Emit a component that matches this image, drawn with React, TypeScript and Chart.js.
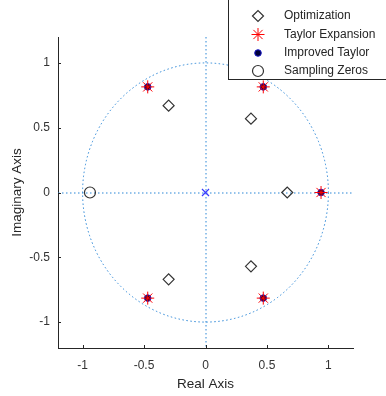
import React, { useEffect, useRef } from "react";
import { Chart, registerables } from "chart.js";
import { drawPoint } from "chart.js/helpers";

Chart.register(...registerables);

// Pole / zero locations (real part, imaginary part)
const optimizationRe = [-0.3, -0.3, 0.37, 0.37, 0.665];
const optimizationIm = [0.67, -0.67, 0.57, -0.57, 0];
const taylorRe = [0.94, 0.47, 0.47, -0.47, -0.47];
const taylorIm = [0, 0.815, -0.815, 0.815, -0.815];
const improvedRe = [0.94, 0.47, 0.47, -0.47, -0.47];
const improvedIm = [0, 0.815, -0.815, 0.815, -0.815];
const samplingRe = [-0.94];
const samplingIm = [0];
const originRe = [0];
const originIm = [0];

const xTicks = [-1, -0.5, 0, 0.5, 1];
const yTicks = [-1, -0.5, 0, 0.5, 1];
const axisMin = -1.2;
const axisMax = 1.2;
const unitRadius = 1;

const legendLabels = ["Optimization", "Taylor Expansion", "Improved Taylor", "Sampling Zeros"];
const xTitle = "Real Axis";
const yTitle = "Imaginary Axis";

const FONT = "'Liberation Sans', Arial, sans-serif";
const DARK = "#262626";
const DOT_BLUE = "#2b86d6";

const toPoints = (re: number[], im: number[]) => re.map((r, i) => ({ x: r, y: im[i] }));

const markerStyles = [
  { pointStyle: "rectRot", radius: 5.5, borderColor: "#333333", backgroundColor: "rgba(0,0,0,0)", borderWidth: 1.2 },
  { pointStyle: "star", radius: 6.5, borderColor: "#ff0000", backgroundColor: "rgba(0,0,0,0)", borderWidth: 1 },
  { pointStyle: "circle", radius: 3.3, borderColor: "#1a1acc", backgroundColor: "#00003a", borderWidth: 1 },
  { pointStyle: "circle", radius: 5.5, borderColor: "#333333", backgroundColor: "rgba(0,0,0,0)", borderWidth: 1.2 },
];

const decorPlugin = {
  id: "pzDecor",
  beforeDatasetsDraw(chart: any) {
    const { ctx, chartArea, scales } = chart;
    const xs = scales.x;
    const ys = scales.y;
    ctx.save();
    ctx.beginPath();
    ctx.rect(chartArea.left, chartArea.top, chartArea.right - chartArea.left, chartArea.bottom - chartArea.top);
    ctx.clip();
    ctx.strokeStyle = DOT_BLUE;
    ctx.lineWidth = 1;
    ctx.setLineDash([1.5, 2.5]);
    // unit circle
    const cx = xs.getPixelForValue(0);
    const cy = ys.getPixelForValue(0);
    const rx = Math.abs(xs.getPixelForValue(unitRadius) - cx);
    const ry = Math.abs(ys.getPixelForValue(unitRadius) - cy);
    ctx.beginPath();
    ctx.ellipse(cx, cy, rx, ry, 0, 0, Math.PI * 2);
    ctx.stroke();
    // real and imaginary axis lines
    const hy = Math.round(cy);
    const vx = Math.round(cx);
    ctx.beginPath();
    ctx.moveTo(chartArea.left, hy);
    ctx.lineTo(chartArea.right, hy);
    ctx.stroke();
    ctx.beginPath();
    ctx.moveTo(vx, chartArea.top);
    ctx.lineTo(vx, chartArea.bottom);
    ctx.stroke();
    ctx.restore();
  },
  afterDraw(chart: any) {
    const { ctx, chartArea, scales } = chart;
    const xs = scales.x;
    const ys = scales.y;
    ctx.save();
    // inward tick marks
    ctx.strokeStyle = DARK;
    ctx.lineWidth = 1;
    ctx.setLineDash([]);
    xTicks.forEach((v) => {
      const px = Math.round(xs.getPixelForValue(v)) + 0.5;
      ctx.beginPath();
      ctx.moveTo(px, chartArea.bottom);
      ctx.lineTo(px, chartArea.bottom - 3);
      ctx.stroke();
    });
    yTicks.forEach((v) => {
      const py = Math.round(ys.getPixelForValue(v)) + 0.5;
      ctx.beginPath();
      ctx.moveTo(chartArea.left, py);
      ctx.lineTo(chartArea.left + 3, py);
      ctx.stroke();
    });
    // axis titles
    ctx.fillStyle = DARK;
    ctx.font = `13.5px ${FONT}`;
    ctx.textAlign = "center";
    ctx.textBaseline = "middle";
    ctx.fillText(xTitle, (chartArea.left + chartArea.right) / 2, 384);
    ctx.save();
    ctx.translate(17, (chartArea.top + chartArea.bottom) / 2);
    ctx.rotate(-Math.PI / 2);
    ctx.fillText(yTitle, 0, 0);
    ctx.restore();
    // legend box
    const lx = 228.5;
    const ly = -1;
    const lw = 170;
    const lh = 80.5;
    ctx.fillStyle = "#ffffff";
    ctx.fillRect(lx, ly, lw, lh);
    ctx.strokeStyle = DARK;
    ctx.lineWidth = 1;
    ctx.strokeRect(lx, ly, lw, lh);
    const rowY = [16, 34.5, 53, 71];
    legendLabels.forEach((label, i) => {
      const st = markerStyles[i];
      ctx.save();
      ctx.strokeStyle = st.borderColor;
      ctx.fillStyle = st.backgroundColor;
      ctx.lineWidth = st.borderWidth;
      drawPoint(ctx, { pointStyle: st.pointStyle, radius: st.radius, rotation: 0, borderWidth: st.borderWidth } as any, 258, rowY[i]);
      ctx.restore();
      ctx.fillStyle = DARK;
      ctx.font = `12px ${FONT}`;
      ctx.textAlign = "left";
      ctx.textBaseline = "middle";
      ctx.fillText(label, 284, rowY[i]);
    });
    ctx.restore();
  },
};

export default function App() {
  const canvasRef = useRef<HTMLCanvasElement | null>(null);

  useEffect(() => {
    const canvas = canvasRef.current;
    if (!canvas) return;
    const seriesData = [
      toPoints(optimizationRe, optimizationIm),
      toPoints(taylorRe, taylorIm),
      toPoints(improvedRe, improvedIm),
      toPoints(samplingRe, samplingIm),
    ];
    const datasets: any[] = legendLabels.map((label, i) => ({
      label,
      data: seriesData[i],
      showLine: false,
      pointStyle: markerStyles[i].pointStyle,
      pointRadius: markerStyles[i].radius,
      pointHoverRadius: markerStyles[i].radius,
      pointBorderColor: markerStyles[i].borderColor,
      pointBackgroundColor: markerStyles[i].backgroundColor,
      pointBorderWidth: markerStyles[i].borderWidth,
    }));
    datasets.push({
      label: "origin",
      data: toPoints(originRe, originIm),
      showLine: false,
      pointStyle: "crossRot",
      pointRadius: 5,
      pointBorderColor: "#3b3bff",
      pointBorderWidth: 1.2,
    });

    const chart = new Chart(canvas, {
      type: "scatter",
      data: { datasets },
      options: {
        responsive: false,
        animation: false,
        devicePixelRatio: 1,
        layout: { padding: { left: 0, top: 37, right: 33, bottom: 0 } },
        plugins: { legend: { display: false }, tooltip: { enabled: false } },
        scales: {
          x: {
            type: "linear",
            min: axisMin,
            max: axisMax,
            afterBuildTicks: (s: any) => {
              s.ticks = xTicks.map((v) => ({ value: v }));
            },
            afterFit: (s: any) => {
              s.height = 48;
            },
            ticks: {
              color: "#333333",
              font: { family: FONT, size: 12 },
              padding: 10,
              maxRotation: 0,
              callback: (v: any) => String(v),
            },
            grid: { display: false, drawTicks: false },
            border: { display: true, color: DARK, width: 1 },
          },
          y: {
            type: "linear",
            min: axisMin,
            max: axisMax,
            afterBuildTicks: (s: any) => {
              s.ticks = yTicks.map((v) => ({ value: v }));
            },
            afterFit: (s: any) => {
              s.width = 58;
            },
            ticks: {
              color: "#333333",
              font: { family: FONT, size: 12 },
              padding: 8,
              callback: (v: any) => String(v),
            },
            grid: { display: false, drawTicks: false },
            border: { display: true, color: DARK, width: 1 },
          },
        },
      },
      plugins: [decorPlugin],
    });
    return () => chart.destroy();
  }, []);

  return (
    <div style={{ position: "fixed", left: 0, top: 0, width: 386, height: 396, background: "#ffffff" }}>
      <canvas ref={canvasRef} width={386} height={396} />
    </div>
  );
}
